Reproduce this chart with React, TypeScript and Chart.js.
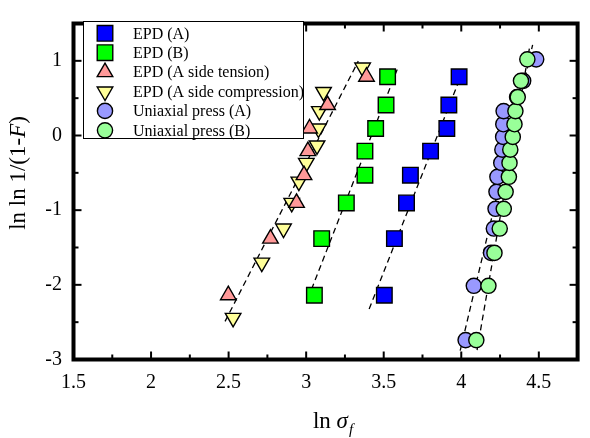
import React, { useEffect, useRef } from 'react';
import { Chart, registerables } from 'chart.js';
import { drawPoint } from 'chart.js/helpers';

Chart.register(...registerables);

const SERIF = "'Liberation Serif', 'Times New Roman', Times, serif";

// ---- axis ticks ----
const xTickValues = [1.5, 2, 2.5, 3, 3.5, 4, 4.5];
const yTickValues = [-3, -2, -1, 0, 1];

// ---- EPD data (n = 8) ----
const epdY = [-2.139, -1.381, -0.903, -0.531, -0.209, 0.094, 0.408, 0.787];
const epdA_x = [3.504, 3.569, 3.647, 3.672, 3.802, 3.907, 3.92, 3.986];
const epdB_x = [3.053, 3.1, 3.259, 3.379, 3.379, 3.448, 3.515, 3.525];

// ---- EPD A side tension (n = 8) ----
const tensionX = [2.498, 2.77, 2.938, 2.986, 3.011, 3.022, 3.138, 3.389];
const tensionY = [-2.139, -1.381, -0.903, -0.531, -0.209, 0.094, 0.408, 0.787];

// ---- EPD A side compression (n = 11) ----
const compressionX = [2.529, 2.714, 2.854, 2.907, 2.953, 3.001, 3.07, 3.079, 3.085, 3.112, 3.364];
const compressionY = [-2.442, -1.702, -1.246, -0.903, -0.618, -0.367, -0.133, 0.094, 0.327, 0.583, 0.91];

// ---- Uniaxial press (n = 15) ----
const pressY = [-2.74, -2.013, -1.572, -1.246, -0.982, -0.755, -0.553, -0.367, -0.19, -0.019, 0.151, 0.327, 0.515, 0.732, 1.02];
const pressA_x = [4.028, 4.081, 4.192, 4.21, 4.221, 4.227, 4.233, 4.258, 4.265, 4.27, 4.271, 4.273, 4.36, 4.399, 4.483];
const pressB_x = [4.097, 4.175, 4.214, 4.248, 4.274, 4.286, 4.307, 4.311, 4.316, 4.332, 4.343, 4.349, 4.364, 4.385, 4.426];

// ---- fitted dashed lines (end points) ----
const fitTriX = [2.477, 3.336];
const fitTriY = [-2.49, 0.996];
const fitEpdB_X = [3.011, 3.594];
const fitEpdB_Y = [-2.186, 0.922];
const fitEpdA_X = [3.406, 3.998];
const fitEpdA_Y = [-2.324, 0.8];
const fitPressA_X = [3.993, 4.46];
const fitPressA_Y = [-2.882, 1.213];
const fitPressB_X = [4.102, 4.443];
const fitPressB_Y = [-2.873, 1.213];

const labels = [
  'EPD (A)',
  'EPD (B)',
  'EPD (A side tension)',
  'EPD (A side compression)',
  'Uniaxial press (A)',
  'Uniaxial press (B)',
];

const zip = (xs: number[], ys: number[]) => xs.map((x, i) => ({ x, y: ys[i] }));

function pointSet(label: string, xs: number[], ys: number[], style: string, color: string, radius: number, rotation: number, order: number) {
  return {
    label,
    data: zip(xs, ys),
    showLine: false,
    pointStyle: style,
    pointRadius: radius,
    pointRotation: rotation,
    backgroundColor: color,
    borderColor: '#000',
    pointBorderWidth: 1.4,
    borderWidth: 1.4,
    order,
    isMarker: true,
  } as any;
}

function lineSet(xs: number[], ys: number[]) {
  return {
    label: '',
    data: zip(xs, ys),
    showLine: true,
    pointRadius: 0,
    borderColor: '#000',
    borderWidth: 1.3,
    borderDash: [6, 4],
    fill: false,
    order: 20,
  } as any;
}

const framePlugin = {
  id: 'frameTicks',
  afterDatasetsDraw(chart: any) {
    const { ctx, chartArea: a, scales } = chart;
    const xs = scales.x;
    const ys = scales.y;
    ctx.save();
    ctx.strokeStyle = '#000';
    ctx.lineWidth = 2;
    const seg = (x1: number, y1: number, x2: number, y2: number) => {
      ctx.beginPath();
      ctx.moveTo(x1, y1);
      ctx.lineTo(x2, y2);
      ctx.stroke();
    };
    const xMaj = xs.ticks.map((t: any) => t.value);
    const yMaj = ys.ticks.map((t: any) => t.value);
    const MAJ = 8;
    const MIN = 5;
    xMaj.forEach((v: number, i: number) => {
      const p = xs.getPixelForValue(v);
      seg(p, a.bottom, p, a.bottom - MAJ);
      seg(p, a.top, p, a.top + MAJ);
      const mv = i < xMaj.length - 1 ? (v + xMaj[i + 1]) / 2 : v + (v - xMaj[i - 1]) / 2;
      if (mv < xs.max) {
        const m = xs.getPixelForValue(mv);
        seg(m, a.bottom, m, a.bottom - MIN);
        seg(m, a.top, m, a.top + MIN);
      }
    });
    yMaj.forEach((v: number, i: number) => {
      const p = ys.getPixelForValue(v);
      seg(a.left, p, a.left + MAJ, p);
      seg(a.right, p, a.right - MAJ, p);
      const mv = i < yMaj.length - 1 ? (v + yMaj[i + 1]) / 2 : v + (v - yMaj[i - 1]) / 2;
      if (mv < ys.max) {
        const m = ys.getPixelForValue(mv);
        seg(a.left, m, a.left + MIN, m);
        seg(a.right, m, a.right - MIN, m);
      }
    });
    ctx.lineWidth = 4;
    ctx.strokeRect(a.left, a.top, a.right - a.left, a.bottom - a.top);
    ctx.restore();
  },
};

const legendPlugin = {
  id: 'boxLegend',
  afterDraw(chart: any) {
    const { ctx } = chart;
    const markers = chart.data.datasets.filter((d: any) => d.isMarker);
    ctx.save();
    ctx.fillStyle = '#fff';
    ctx.fillRect(83, 21, 220, 117);
    ctx.strokeStyle = '#000';
    ctx.lineWidth = 1;
    ctx.strokeRect(83.5, 21.5, 220, 117);
    markers.forEach((d: any, i: number) => {
      const cy = 33.3 + i * 19.4;
      ctx.fillStyle = d.backgroundColor;
      ctx.strokeStyle = '#000';
      ctx.lineWidth = d.pointBorderWidth;
      drawPoint(ctx, { pointStyle: d.pointStyle, rotation: d.pointRotation, radius: d.pointRadius, borderWidth: d.pointBorderWidth } as any, 105, cy);
      ctx.fillStyle = '#000';
      ctx.font = `16px ${SERIF}`;
      ctx.textBaseline = 'middle';
      ctx.textAlign = 'left';
      ctx.fillText(d.label, 133, cy + 1);
    });
    ctx.restore();
  },
};

const titlePlugin = {
  id: 'axisTitles',
  afterDraw(chart: any) {
    const { ctx, chartArea: a } = chart;
    ctx.save();
    ctx.fillStyle = '#000';
    ctx.textBaseline = 'alphabetic';
    ctx.textAlign = 'left';
    // x title: ln σ_f
    const up = `23px ${SERIF}`;
    const it = `italic 23px ${SERIF}`;
    const sub = `italic 15px ${SERIF}`;
    const xParts = [
      { t: 'ln ', f: up, dy: 0 },
      { t: 'σ', f: it, dy: 0 },
      { t: 'f', f: sub, dy: 6 },
    ];
    let w = 0;
    xParts.forEach((p) => { ctx.font = p.f; w += ctx.measureText(p.t).width + (p.t === 'f' ? 1 : 0); });
    let x = 333 - w / 2;
    const base = 428;
    xParts.forEach((p) => {
      ctx.font = p.f;
      if (p.t === 'f') x += 1;
      ctx.fillText(p.t, x, base + p.dy);
      x += ctx.measureText(p.t).width;
    });
    // y title: ln ln 1/(1-F)
    const yParts = [
      { t: 'ln ln 1/(1-', f: up },
      { t: 'F', f: it },
      { t: ')', f: up },
    ];
    let h = 0;
    yParts.forEach((p) => { ctx.font = p.f; h += ctx.measureText(p.t).width; });
    ctx.translate(25, 173);
    ctx.rotate(-Math.PI / 2);
    let s = -h / 2;
    yParts.forEach((p) => {
      ctx.font = p.f;
      ctx.fillText(p.t, s, 0);
      s += ctx.measureText(p.t).width;
    });
    ctx.restore();
  },
};

export default function App() {
  const ref = useRef<HTMLCanvasElement | null>(null);
  useEffect(() => {
    if (!ref.current) return;
    const chart = new Chart(ref.current, {
      type: 'scatter',
      data: {
        datasets: [
          pointSet(labels[0], epdA_x, epdY, 'rect', '#0000FF', 11, 0, 6),
          pointSet(labels[1], epdB_x, epdY, 'rect', '#00FF00', 11, 0, 5),
          pointSet(labels[2], tensionX, tensionY, 'triangle', '#FF9999', 9, 0, 3),
          pointSet(labels[3], compressionX, compressionY, 'triangle', '#FFFF99', 9, 180, 4),
          pointSet(labels[4], pressA_x, pressY, 'circle', '#9999FF', 7.6, 0, 2),
          pointSet(labels[5], pressB_x, pressY, 'circle', '#99FF99', 7.6, 0, 1),
          lineSet(fitTriX, fitTriY),
          lineSet(fitEpdB_X, fitEpdB_Y),
          lineSet(fitEpdA_X, fitEpdA_Y),
          lineSet(fitPressA_X, fitPressA_Y),
          lineSet(fitPressB_X, fitPressB_Y),
        ],
      },
      options: {
        responsive: false,
        animation: false,
        devicePixelRatio: 1,
        events: [],
        layout: { padding: { top: 14.5, right: 1, left: 0, bottom: 0 } },
        plugins: { legend: { display: false }, tooltip: { enabled: false } },
        scales: {
          x: {
            type: 'linear',
            min: 1.5,
            max: 4.75,
            afterBuildTicks: (s: any) => { s.ticks = xTickValues.map((v) => ({ value: v })); },
            afterFit: (s: any) => { s.height = 78.5; },
            grid: { display: false, drawTicks: false },
            border: { display: false },
            ticks: {
              font: { family: SERIF, size: 20 },
              color: '#000',
              padding: 11.5,
              maxRotation: 0,
              autoSkip: false,
              callback: (v: any) => String(v),
            },
          },
          y: {
            type: 'linear',
            min: -3,
            max: 1.5,
            afterBuildTicks: (s: any) => { s.ticks = yTickValues.map((v) => ({ value: v })); },
            afterFit: (s: any) => { s.width = 73.5; },
            grid: { display: false, drawTicks: false },
            border: { display: false },
            ticks: {
              font: { family: SERIF, size: 20 },
              color: '#000',
              padding: 11.5,
              autoSkip: false,
              callback: (v: any) => String(v),
            },
          },
        },
      } as any,
      plugins: [framePlugin, legendPlugin, titlePlugin],
    });
    return () => chart.destroy();
  }, []);
  return (
    <div style={{ position: 'absolute', left: 0, top: 0, width: 590, height: 438, background: '#fff' }}>
      <canvas ref={ref} width={590} height={438} style={{ display: 'block', width: 590, height: 438 }} />
    </div>
  );
}
